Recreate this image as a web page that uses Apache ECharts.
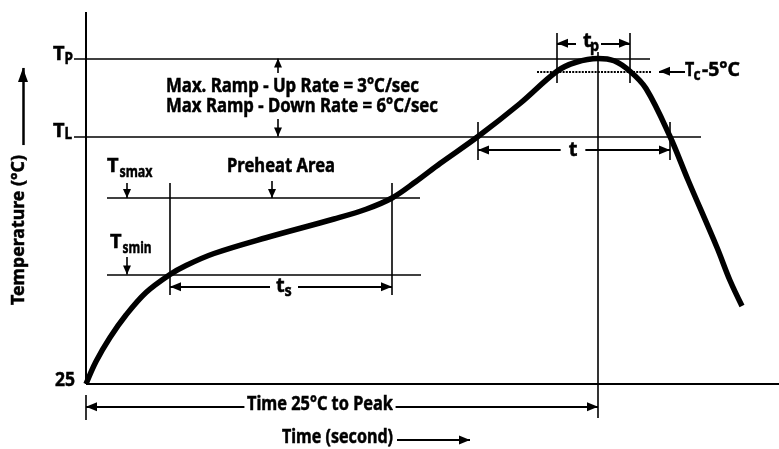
<!DOCTYPE html>
<html><head><meta charset="utf-8">
<script src="https://cdn.jsdelivr.net/npm/echarts@6/dist/echarts.min.js"></script>
<style>html,body{margin:0;padding:0;background:#fff}#c{width:779px;height:449px}</style>
</head><body><div id="c"></div>
<script>
// ---- Data (schematic reflow profile: time in s, temperature in °C) ----
const profileTime = [0, 5, 12, 20, 30, 42, 50, 64, 90, 124, 140, 153, 165, 177, 196, 217, 235.5, 245, 256, 264, 272, 280, 292, 301, 315.5, 322, 328];
const profileTemp = [25, 40, 56, 71, 86, 98, 104, 112, 122.5, 135, 141.5, 149, 160, 172, 190, 212, 233.5, 239.5, 242, 240.5, 233.5, 222, 190, 161, 116, 94, 77];
// Reference temperature levels
const levelNames = ['Tp', 'Tc-5', 'TL', 'Tsmax', 'Tsmin', 'Tstart'];
const levelTemps = [242, 233.5, 190, 149, 98, 25];
// Reference times
const timeNames = ['ts start', 'ts end', 'TL up', 'TL down', 'tp start', 'tp end', 'peak', 'axis end'];
const timeValues = [42, 153, 196, 292, 235.5, 272, 256, 346.5];
const tickLabels = ['25'];

const L = {}; levelNames.forEach((n, i) => L[n] = levelTemps[i]);
const T = {}; timeNames.forEach((n, i) => T[n] = timeValues[i]);

const FONT = '"Noto Sans", "Open Sans", sans-serif';
const BLACK = '#000';

function seg(a, b, o) {
  o = o || {};
  const as = o.as || [9, 11];
  return [
    {coord: a, symbol: o.from ? 'triangle' : 'none', symbolSize: as, symbolOffset: [0, as[1] / 2],
     lineStyle: {color: BLACK, width: o.w || 1.6, type: o.type || 'solid', cap: 'butt'}},
    {coord: b, symbol: o.to ? 'triangle' : 'none', symbolSize: as, symbolOffset: [0, as[1] / 2]}
  ];
}

const lines = [
  // axes
  seg([0, L.Tstart], [0, 273], {w: 2}),
  seg([0, L.Tstart], [T['axis end'], L.Tstart], {w: 2}),
  // level lines
  seg([-6, L.Tp], [282, L.Tp]),
  seg([-6, L.TL], [307.5, L.TL]),
  seg([10.5, L.Tsmax], [167, L.Tsmax]),
  seg([10.5, L.Tsmin], [167.5, L.Tsmin]),
  seg([225.5, L['Tc-5']], [282.5, L['Tc-5']], {type: [2, 1.2], w: 2}),
  // vertical markers
  seg([T['ts start'], 159], [T['ts start'], 84.3]),
  seg([T['ts end'], 159], [T['ts end'], 84.3]),
  seg([T.peak, 246.3], [T.peak, 2.3]),
  seg([T['tp start'], 259], [T['tp start'], 225.7]),
  seg([T['tp end'], 259], [T['tp end'], 225.7]),
  seg([T['TL up'], 199.7], [T['TL up'], 174.3]),
  seg([T['TL down'], 199.7], [T['TL down'], 174.3]),
  seg([0, 17.7], [0, 1]),
  // dimension arrows
  seg([T['tp start'], 252.1], [T['tp end'], 252.1], {from: 1, to: 1, w: 2}),
  seg([T['TL up'], 181], [T['TL down'], 181], {from: 1, to: 1, w: 2}),
  seg([T['ts start'], 89.9], [T['ts end'], 89.9], {from: 1, to: 1, w: 2}),
  seg([0, 9.9], [T.peak, 9.9], {from: 1, to: 1, w: 2}),
  seg([155.5, -12.3], [192, -12.3], {to: 1, w: 2}),
  seg([-31.5, 184.3], [-31.5, 235.7], {to: 1, w: 2.5, as: [10, 14]}),
  seg([299.5, L['Tc-5']], [286.5, L['Tc-5']], {to: 1, w: 2}),
  seg([20.5, 159], [20.5, L.Tsmax], {to: 1, w: 1.6, as: [8, 9]}),
  seg([20.5, 109.7], [20.5, L.Tsmin], {to: 1, w: 1.6, as: [8, 9]}),
  seg([93, 160.3], [93, L.Tsmax], {to: 1, w: 1.6, as: [8, 9]}),
  seg([96, 232.3], [96, L.Tp], {to: 1, w: 1.6, as: [8, 9]}),
  seg([96, 201.7], [96, L.TL], {to: 1, w: 1.6, as: [8, 9]})
];

const measureCtx = document.createElement('canvas').getContext('2d');
function txt(text, x, y, o) {
  o = o || {};
  const font = 'bold ' + (o.size || 19) + 'px ' + FONT;
  let sx = o.sx || 1;
  if (o.w) { measureCtx.font = font; sx = o.w / measureCtx.measureText(text).width; }
  const st = {text, fill: BLACK, font, align: o.align || 'left', verticalAlign: 'middle',
    stroke: BLACK, lineWidth: 0.5};
  if (o.bg) { st.backgroundColor = '#fff'; st.padding = o.pad || [0, 3]; }
  return {type: 'text', x, y, z: 100, rotation: o.rot || 0, scaleX: sx, style: st, silent: true};
}

const texts = [
  txt('T', 53, 54, {size: 20}), txt('P', 64.5, 59.5, {size: 16, sx: 0.85}),
  txt('T', 53, 131, {size: 20}), txt('L', 64.5, 134, {size: 16, sx: 0.85}),
  txt(tickLabels[0], 75, 381, {align: 'right', w: 20}),
  txt('T', 107, 166, {size: 20}), txt('smax', 119.5, 172, {size: 16, w: 33}),
  txt('T', 110, 242, {size: 20}), txt('smin', 122.5, 248.5, {size: 16, w: 29}),
  txt('Preheat Area', 281, 167, {align: 'center', w: 108}),
  txt('Max. Ramp - Up Rate = 3°C/sec', 166, 86.5, {w: 253}),
  txt('Max Ramp - Down Rate = 6°C/sec', 166, 106.5, {w: 272}),
  txt('t', 583, 41.5, {size: 20}), txt('p', 590, 46, {size: 16, sx: 0.9}),
  txt('T', 685, 70, {size: 20, sx: 0.8}), txt('c', 693.5, 75, {size: 16, sx: 0.85}), txt('-5°C', 702, 70, {size: 20, w: 38}),
  txt('t', 573, 150, {align: 'center', bg: 1, pad: [0, 8], size: 20}),
  txt('t', 276, 286.5, {size: 20}), txt('s', 284.5, 291, {size: 16, sx: 0.9}),
  txt('Time 25°C to Peak', 320, 404.5, {align: 'center', bg: 1, pad: [0, 3], w: 146}),
  txt('Time (second)', 393, 437.5, {align: 'right', w: 111}),
  txt('Temperature (°C)', 18.5, 230, {align: 'center', rot: Math.PI / 2, size: 18, w: 150})
];

const chart = echarts.init(document.getElementById('c'), null, {renderer: 'canvas'});
chart.setOption({
  animation: false,
  backgroundColor: '#fff',
  grid: {left: 0, right: 0, top: 0, bottom: 0},
  xAxis: {type: 'value', min: -43, max: 346.5, show: false},
  yAxis: {type: 'value', min: 25 - 65 / 1.5, max: 25 + 384 / 1.5, show: false},
  graphic: texts.concat([
    {type: 'rect', z: 99, shape: {x: 270, y: 280, width: 28, height: 14}, style: {fill: '#fff'}, silent: true},
    {type: 'rect', z: 99, shape: {x: 576, y: 36, width: 25, height: 16}, style: {fill: '#fff'}, silent: true}
  ]),
  series: [
    {type: 'line', data: [], z: 1, silent: true,
     markLine: {silent: true, animation: false, label: {show: false}, emphasis: {disabled: true},
       data: lines}},
    {type: 'line', z: 5, silent: true, smooth: 0.35, showSymbol: false, symbol: 'none', clip: false,
     lineStyle: {color: BLACK, width: 5.5, cap: 'butt', join: 'round'},
     data: profileTime.map((t, i) => [t, profileTemp[i]])}
  ]
});
</script></body></html>
